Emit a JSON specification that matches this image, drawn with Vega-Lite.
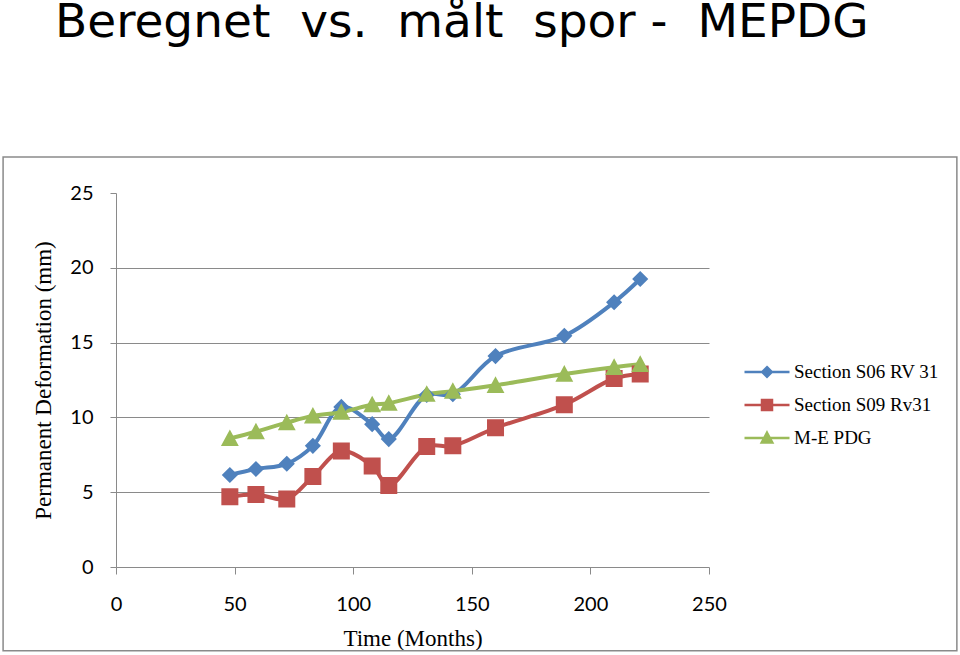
{
  "$schema": "https://vega.github.io/schema/vega-lite/v6.json",
  "width": 593,
  "height": 374,
  "autosize": {"type": "none"},
  "padding": {"left": 116, "top": 193, "right": 251, "bottom": 88},
  "background": "white",
  "title": {
    "text": "Beregnet \u00a0vs. \u00a0målt \u00a0spor - \u00a0MEPDG",
    "anchor": "start",
    "frame": "group",
    "font": "DejaVu Sans",
    "fontSize": 47,
    "fontWeight": "normal",
    "color": "#000000",
    "baseline": "alphabetic",
    "dx": -61,
    "offset": 72
  },
  "data": {
    "values": [
      {"series": "Section S06 RV 31", "month": 48, "value": 6.15},
      {"series": "Section S06 RV 31", "month": 59, "value": 6.55},
      {"series": "Section S06 RV 31", "month": 72, "value": 6.9},
      {"series": "Section S06 RV 31", "month": 83, "value": 8.1},
      {"series": "Section S06 RV 31", "month": 95, "value": 10.7},
      {"series": "Section S06 RV 31", "month": 108, "value": 9.55},
      {"series": "Section S06 RV 31", "month": 115, "value": 8.55},
      {"series": "Section S06 RV 31", "month": 131, "value": 11.5},
      {"series": "Section S06 RV 31", "month": 142, "value": 11.55},
      {"series": "Section S06 RV 31", "month": 160, "value": 14.1},
      {"series": "Section S06 RV 31", "month": 189, "value": 15.45},
      {"series": "Section S06 RV 31", "month": 210, "value": 17.7},
      {"series": "Section S06 RV 31", "month": 221, "value": 19.25},
      {"series": "Section S09 Rv31", "month": 48, "value": 4.7},
      {"series": "Section S09 Rv31", "month": 59, "value": 4.85},
      {"series": "Section S09 Rv31", "month": 72, "value": 4.55},
      {"series": "Section S09 Rv31", "month": 83, "value": 6.05},
      {"series": "Section S09 Rv31", "month": 95, "value": 7.75},
      {"series": "Section S09 Rv31", "month": 108, "value": 6.75},
      {"series": "Section S09 Rv31", "month": 115, "value": 5.45},
      {"series": "Section S09 Rv31", "month": 131, "value": 8.05},
      {"series": "Section S09 Rv31", "month": 142, "value": 8.1},
      {"series": "Section S09 Rv31", "month": 160, "value": 9.3},
      {"series": "Section S09 Rv31", "month": 189, "value": 10.85},
      {"series": "Section S09 Rv31", "month": 210, "value": 12.6},
      {"series": "Section S09 Rv31", "month": 221, "value": 12.9},
      {"series": "M-E PDG", "month": 48, "value": 8.6},
      {"series": "M-E PDG", "month": 59, "value": 9.05},
      {"series": "M-E PDG", "month": 72, "value": 9.65},
      {"series": "M-E PDG", "month": 83, "value": 10.1},
      {"series": "M-E PDG", "month": 95, "value": 10.35},
      {"series": "M-E PDG", "month": 108, "value": 10.85},
      {"series": "M-E PDG", "month": 115, "value": 10.95},
      {"series": "M-E PDG", "month": 131, "value": 11.55},
      {"series": "M-E PDG", "month": 142, "value": 11.75},
      {"series": "M-E PDG", "month": 160, "value": 12.15},
      {"series": "M-E PDG", "month": 189, "value": 12.9},
      {"series": "M-E PDG", "month": 210, "value": 13.35},
      {"series": "M-E PDG", "month": 221, "value": 13.55}
    ]
  },
  "layer": [
    {
      "data": {"values": [{"box": "chart area"}]},
      "mark": {"type": "rect", "fill": null, "stroke": "#8a8a8a", "strokeWidth": 1.5, "clip": false},
      "encoding": {
        "x": {"datum": -47.6, "type": "quantitative", "scale": {"domain": [0, 250], "nice": false}},
        "x2": {"datum": 354.5},
        "y": {"datum": 27.4, "type": "quantitative", "scale": {"domain": [0, 25], "nice": false}},
        "y2": {"datum": -5.6}
      }
    },
    {
      "mark": {"type": "line", "interpolate": "catmull-rom"},
      "encoding": {
        "x": {
          "field": "month", "type": "quantitative",
          "scale": {"domain": [0, 250], "nice": false},
          "axis": {
            "title": "Time (Months)",
            "values": [0, 50, 100, 150, 200, 250],
            "grid": false,
            "labelFlush": false,
            "tickSize": 7,
            "labelPadding": 20,
            "titlePadding": 13
          }
        },
        "y": {
          "field": "value", "type": "quantitative",
          "scale": {"domain": [0, 25], "nice": false},
          "axis": {
            "title": "Permanent Deformation (mm)",
            "values": [0, 5, 10, 15, 20, 25],
            "grid": true,
            "labelFlush": false,
            "gridColor": {"condition": {"test": "datum.value === 25 || datum.value === 0", "value": "transparent"}, "value": "#8a8a8a"},
            "tickSize": 6,
            "labelPadding": 17,
            "titlePadding": 14
          }
        },
        "stroke": {
          "field": "series", "type": "nominal",
          "scale": {"domain": ["Section S06 RV 31", "Section S09 Rv31", "M-E PDG"], "range": ["#4F81BD", "#C0504D", "#9BBB59"]},
          "legend": {
            "title": null, "orient": "none", "legendX": 637, "legendY": 165, "padding": 0,
            "symbolSize": 625, "symbolStrokeWidth": 2.5, "labelOffset": 13, "rowPadding": 9,
            "labelFont": "Liberation Serif", "labelFontSize": 19, "labelColor": "#000000"
          }
        },
        "strokeWidth": {"value": 4},
        "detail": {"field": "series"}
      }
    },
    {
      "mark": {"type": "point", "filled": true, "opacity": 1, "size": 1806},
      "encoding": {
        "x": {"field": "month", "type": "quantitative"},
        "y": {"field": "value", "type": "quantitative"},
        "fill": {
          "field": "series", "type": "nominal",
          "scale": {"domain": ["Section S06 RV 31", "Section S09 Rv31", "M-E PDG"], "range": ["#4F81BD", "#C0504D", "#9BBB59"]},
          "legend": {
            "title": null, "orient": "none", "legendX": 637, "legendY": 165, "padding": 0,
            "symbolSize": 625, "symbolStrokeWidth": 2.5, "labelOffset": 13, "rowPadding": 9,
            "labelFont": "Liberation Serif", "labelFontSize": 19, "labelColor": "#000000"
          }
        },
        "stroke": {
          "field": "series", "type": "nominal",
          "legend": {
            "title": null, "orient": "none", "legendX": 637, "legendY": 165, "padding": 0,
            "symbolSize": 625, "symbolStrokeWidth": 2.5, "labelOffset": 13, "rowPadding": 9,
            "labelFont": "Liberation Serif", "labelFontSize": 19, "labelColor": "#000000"
          }
        },
        "shape": {
          "field": "series", "type": "nominal",
          "scale": {
            "domain": ["Section S06 RV 31", "Section S09 Rv31", "M-E PDG"],
            "range": [
              "M-1.8,0H1.8M0,-0.38L0.38,0L0,0.38L-0.38,0Z",
              "M-1.8,0H1.8M-0.4,-0.4H0.4V0.4H-0.4Z",
              "M-1.8,0H1.8M0,-0.42L0.42,0.36H-0.42Z"
            ]
          },
          "legend": {
            "title": null, "orient": "none", "legendX": 637, "legendY": 165, "padding": 0,
            "symbolSize": 625, "symbolStrokeWidth": 2.5, "labelOffset": 13, "rowPadding": 9,
            "labelFont": "Liberation Serif", "labelFontSize": 19, "labelColor": "#000000"
          }
        },
        "strokeWidth": {"value": 0}
      }
    }
  ],
  "config": {
    "view": {"stroke": null},
    "axis": {
      "domainColor": "#8a8a8a",
      "domainWidth": 1,
      "tickColor": "#8a8a8a",
      "labelFont": "Lato",
      "labelFontSize": 20,
      "labelColor": "#000000",
      "titleFont": "Liberation Serif",
      "titleFontSize": 23,
      "titleFontWeight": "normal",
      "titleColor": "#000000",
      "gridWidth": 1
    }
  }
}
